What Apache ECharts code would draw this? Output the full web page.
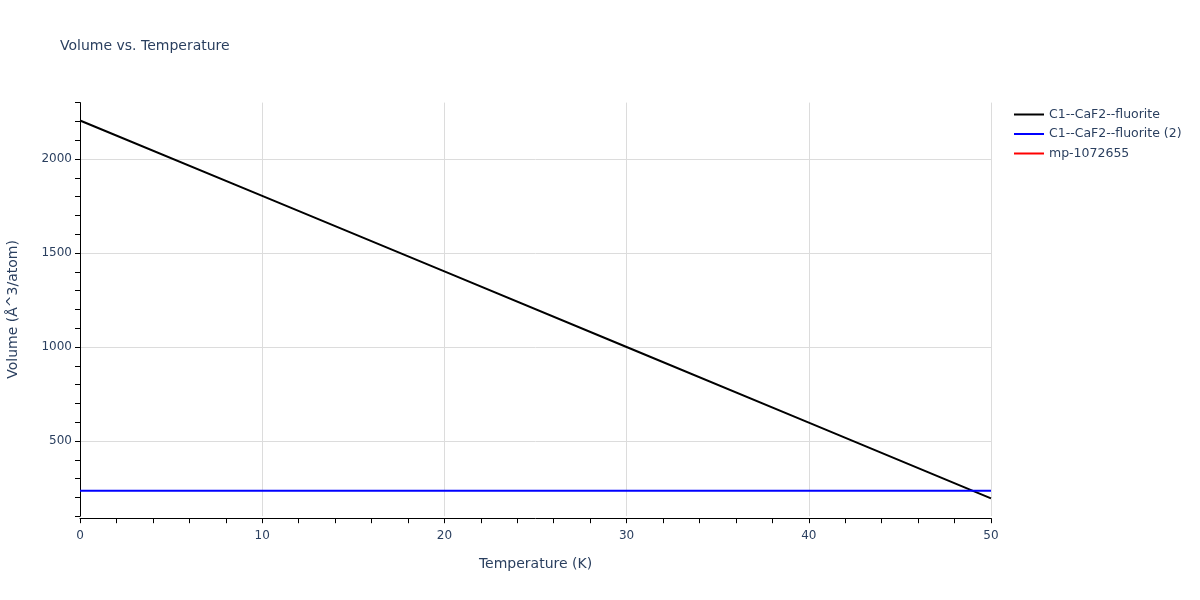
<!DOCTYPE html>
<html>
<head>
<meta charset="utf-8">
<script src="https://cdn.jsdelivr.net/npm/echarts@6/dist/echarts.min.js"></script>
<style>
  html, body { margin: 0; padding: 0; background: #fff; }
  #main { width: 1200px; height: 600px; }
</style>
</head>
<body>
<div id="main"></div>
<script>
// temperatures (K) and volumes
var temps = [0, 10, 20, 30, 40, 50];
var volBlack = [2205, 1804, 1402, 1000, 598, 195];
var volBlue = [236, 236, 236, 236, 236, 236];
var volRed = [];
var names = ['C1--CaF2--fluorite', 'C1--CaF2--fluorite (2)', 'mp-1072655'];
var colors = ['#000000', '#0000ff', '#ff0000'];

var txt = '#2a3f5f';
var font = '"DejaVu Sans", Verdana, sans-serif';
var grid = '#dcdcdc';
var none = 'rgba(0,0,0,0)';

function pairs(xs, ys) {
	var out = [];
	for (var i = 0; i < ys.length; i++) out.push([xs[i], ys[i]]);
	return out;
}

var datas = [pairs(temps, volBlack), pairs(temps, volBlue), volRed];
var series = [];
for (var i = 0; i < names.length; i++) {
	series.push({
		name: names[i],
		type: 'line',
		data: datas[i],
		showSymbol: false,
		symbol: 'none',
		lineStyle: { color: colors[i], width: 2 },
		itemStyle: { color: colors[i] }
	});
}

var myChart = echarts.init(document.getElementById('main'));
var option = {
	animation: false,
	textStyle: { fontFamily: font },
	title: {
		text: 'Volume vs. Temperature',
		left: 55, top: 34,
		textStyle: { fontFamily: font, fontSize: 14, fontWeight: 'normal', color: txt }
	},
	legend: {
		orient: 'vertical',
		left: 1009, top: 103,
		itemWidth: 30, itemHeight: 2, itemGap: 6.5,
		icon: 'rect',
		textStyle: { fontFamily: font, fontSize: 12.5, color: txt },
		data: names
	},
	grid: { left: 80, right: 209, top: 102.6, bottom: 83.8, containLabel: false, outerBoundsMode: 'none' },
	xAxis: {
		type: 'value',
		min: 0, max: 50, interval: 10,
		offset: 2,
		name: 'Temperature (K)',
		nameLocation: 'middle', nameGap: 39,
		nameTextStyle: { fontFamily: font, fontSize: 14, color: txt },
		axisLine: { show: true, lineStyle: { color: '#000', width: 1 } },
		axisTick: { show: true, length: 5, lineStyle: { color: '#000' } },
		minorTick: { show: true, splitNumber: 5, length: 5, lineStyle: { color: '#000' } },
		axisLabel: { fontFamily: font, fontSize: 12, color: txt, margin: 12 },
		splitLine: { show: true, lineStyle: { color: grid } }
	},
	yAxis: {
		type: 'value',
		min: 100, max: 2300, interval: 100,
		name: 'Volume (Å^3/atom)',
		nameLocation: 'middle', nameGap: 60,
		nameTextStyle: { fontFamily: font, fontSize: 14, color: txt },
		axisLine: { show: true, lineStyle: { color: '#000', width: 1 } },
		axisTick: { show: true, length: 5, lineStyle: { color: '#000' } },
		axisLabel: {
			fontFamily: font, fontSize: 12, color: txt, margin: 8,
			formatter: function (v) { return v % 500 === 0 ? String(v) : ''; }
		},
		// only every fifth line (multiples of 500) is visible
		splitLine: {
			show: true,
			lineStyle: { color: [none, none, none, none, grid] }
		}
	},
	series: series
};
myChart.setOption(option, true);
</script>
</body>
</html>
